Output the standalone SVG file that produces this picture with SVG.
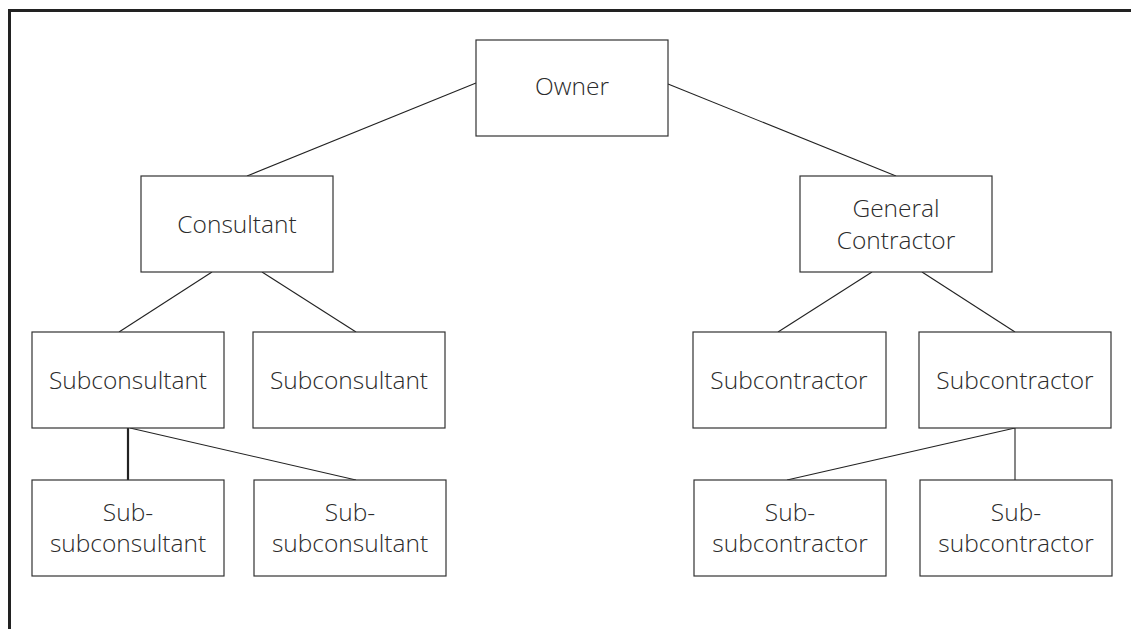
<svg xmlns="http://www.w3.org/2000/svg" width="1131" height="629" viewBox="0 0 1131 629">
<style>
.box{fill:#fff;stroke:#333;stroke-width:1.2}
.lbl{font-family:"Open Sans","Liberation Sans",sans-serif;font-size:24.5px;font-weight:300;fill:#2b2b2b;text-anchor:middle}
.con line{stroke:#222;stroke-width:1.1}
.frame{stroke:#222;stroke-width:3;fill:none}
</style>
<rect width="1131" height="629" fill="#fff"/>
<path class="frame" d="M9.5 629 V10.5 H1131"/>
<g class="con" id="connectors">
<line x1="476" y1="83" x2="247" y2="176"/>
<line x1="668" y1="84" x2="896" y2="176"/>
<line x1="212" y1="272" x2="119" y2="332"/>
<line x1="262" y1="272" x2="356" y2="332"/>
<line x1="872" y1="272" x2="778" y2="332"/>
<line x1="922" y1="272" x2="1015" y2="332"/>
<line x1="128" y1="428" x2="128" y2="480" style="stroke-width:2.2"/>
<line x1="130" y1="428" x2="356" y2="480"/>
<line x1="1015" y1="428" x2="787" y2="480"/>
<line x1="1015" y1="428" x2="1015" y2="480"/>
</g>
<g id="owner"><rect class="box" x="476" y="40" width="192" height="96"/><text class="lbl" x="572" y="95">Owner</text></g>
<g id="consultant"><rect class="box" x="141" y="176" width="192" height="96"/><text class="lbl" x="237" y="233">Consultant</text></g>
<g id="general-contractor"><rect class="box" x="800" y="176" width="192" height="96"/><text class="lbl" x="896" y="217">General</text><text class="lbl" x="896" y="249">Contractor</text></g>
<g id="subconsultant-1"><rect class="box" x="32" y="332" width="192" height="96"/><text class="lbl" x="128" y="389">Subconsultant</text></g>
<g id="subconsultant-2"><rect class="box" x="253" y="332" width="192" height="96"/><text class="lbl" x="349" y="389">Subconsultant</text></g>
<g id="subcontractor-1"><rect class="box" x="693" y="332" width="193" height="96"/><text class="lbl" x="789" y="389">Subcontractor</text></g>
<g id="subcontractor-2"><rect class="box" x="919" y="332" width="192" height="96"/><text class="lbl" x="1015" y="389">Subcontractor</text></g>
<g id="sub-subconsultant-1"><rect class="box" x="32" y="480" width="192" height="96"/><text class="lbl" x="128" y="521">Sub-</text><text class="lbl" x="128" y="552">subconsultant</text></g>
<g id="sub-subconsultant-2"><rect class="box" x="254" y="480" width="192" height="96"/><text class="lbl" x="350" y="521">Sub-</text><text class="lbl" x="350" y="552">subconsultant</text></g>
<g id="sub-subcontractor-1"><rect class="box" x="694" y="480" width="192" height="96"/><text class="lbl" x="790" y="521">Sub-</text><text class="lbl" x="790" y="552">subcontractor</text></g>
<g id="sub-subcontractor-2"><rect class="box" x="920" y="480" width="192" height="96"/><text class="lbl" x="1016" y="521">Sub-</text><text class="lbl" x="1016" y="552">subcontractor</text></g>
</svg>
